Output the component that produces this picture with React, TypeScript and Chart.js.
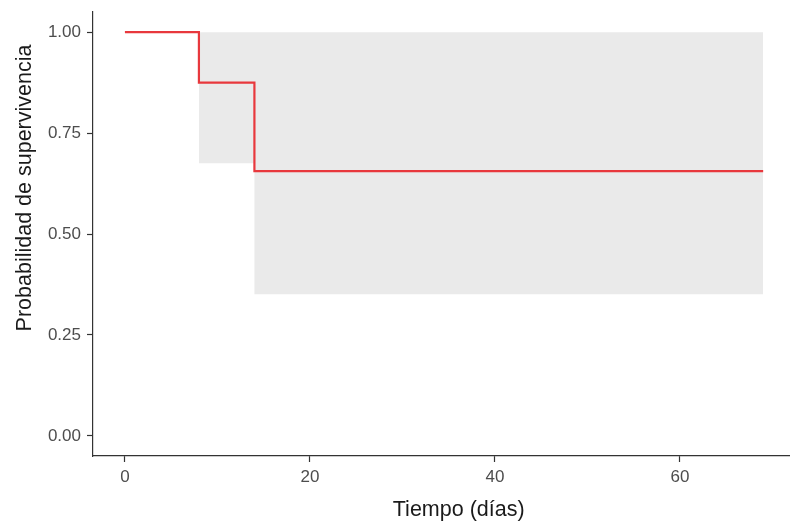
import React, { useEffect, useRef } from "react";
import { Chart, registerables } from "chart.js";

Chart.register(...registerables);

// ---- data ----
const timeDays = [0, 8, 14, 69];
const survival = [1, 0.875, 0.656, 0.656];
const bandTime = [8, 14, 69];
const bandUpper = [1, 1, 1];
const bandLower = [0.675, 0.351, 0.351];
const xTicks = [0, 20, 40, 60];
const yTicks = [0, 0.25, 0.5, 0.75, 1];
const xTitle = "Tiempo (días)";
const yTitle = "Probabilidad de supervivencia";

const FONT = '"Liberation Sans", Arial, Helvetica, sans-serif';
const LINE_COLOR = "#E8383D";
const BAND_COLOR = "#EAEAEA";
const AXIS_COLOR = "#333333";
const TICK_LABEL_COLOR = "#4D4D4D";

const titlesPlugin = {
  id: "customTitles",
  afterDraw(chart: any) {
    const ctx = chart.ctx as CanvasRenderingContext2D;
    ctx.save();
    ctx.fillStyle = "#1A1A1A";
    ctx.font = `21.5px ${FONT}`;
    ctx.textAlign = "center";
    ctx.textBaseline = "alphabetic";
    ctx.fillText(xTitle, 458.7, 516);
    ctx.translate(30.5, 188);
    ctx.rotate(-Math.PI / 2);
    ctx.fillText(yTitle, 0, 0);
    ctx.restore();
  },
};

export default function App() {
  const canvasRef = useRef<HTMLCanvasElement | null>(null);

  useEffect(() => {
    document.body.style.margin = "0";
    const canvas = canvasRef.current;
    if (!canvas) return;

    const chart = new Chart(canvas, {
      type: "line",
      data: {
        datasets: [
          {
            label: "Supervivencia",
            data: timeDays.map((t, i) => ({ x: t, y: survival[i] })),
            borderColor: LINE_COLOR,
            borderWidth: 2.2,
            stepped: "before",
            pointRadius: 0,
            fill: false,
          },
          {
            label: "IC superior",
            data: bandTime.map((t, i) => ({ x: t, y: bandUpper[i] })),
            borderWidth: 0,
            borderColor: "rgba(0,0,0,0)",
            stepped: "before",
            pointRadius: 0,
            fill: false,
          },
          {
            label: "IC inferior",
            data: bandTime.map((t, i) => ({ x: t, y: bandLower[i] })),
            borderWidth: 0,
            borderColor: "rgba(0,0,0,0)",
            backgroundColor: BAND_COLOR,
            stepped: "before",
            pointRadius: 0,
            fill: "-1",
          },
        ],
      },
      options: {
        animation: false,
        responsive: true,
        maintainAspectRatio: false,
        layout: { padding: { top: 12, right: 0, bottom: 0, left: 0 } },
        plugins: {
          legend: { display: false },
          tooltip: { enabled: false },
          title: { display: false },
        },
        scales: {
          x: {
            type: "linear",
            min: -3.45,
            max: 71.9,
            afterBuildTicks: (scale: any) => {
              scale.ticks = xTicks.map((v) => ({ value: v }));
            },
            afterFit: (scale: any) => {
              scale.height = 66;
              scale.paddingLeft = 0;
              scale.paddingRight = 0;
            },
            grid: {
              display: true,
              drawOnChartArea: false,
              drawTicks: true,
              tickLength: 6,
              tickColor: AXIS_COLOR,
              tickWidth: 1.2,
            },
            border: { display: true, color: AXIS_COLOR, width: 1.2 },
            ticks: {
              color: TICK_LABEL_COLOR,
              font: { family: FONT, size: 17 },
              padding: 5,
              maxRotation: 0,
              autoSkip: false,
              callback: (v: any) => String(v),
            },
          },
          y: {
            type: "linear",
            min: -0.05,
            max: 1.05,
            afterBuildTicks: (scale: any) => {
              scale.ticks = yTicks.map((v) => ({ value: v }));
            },
            afterFit: (scale: any) => {
              scale.width = 93;
              scale.paddingTop = 0;
              scale.paddingBottom = 0;
            },
            grid: {
              display: true,
              drawOnChartArea: false,
              drawTicks: true,
              tickLength: 6,
              tickColor: AXIS_COLOR,
              tickWidth: 1.2,
            },
            border: { display: true, color: AXIS_COLOR, width: 1.2 },
            ticks: {
              color: TICK_LABEL_COLOR,
              font: { family: FONT, size: 17 },
              padding: 6,
              autoSkip: false,
              callback: (v: any) => Number(v).toFixed(2),
            },
          },
        },
      },
      plugins: [titlesPlugin],
    });

    return () => {
      chart.destroy();
    };
  }, []);

  return (
    <div style={{ position: "relative", width: 790, height: 522 }}>
      <canvas ref={canvasRef} />
    </div>
  );
}
